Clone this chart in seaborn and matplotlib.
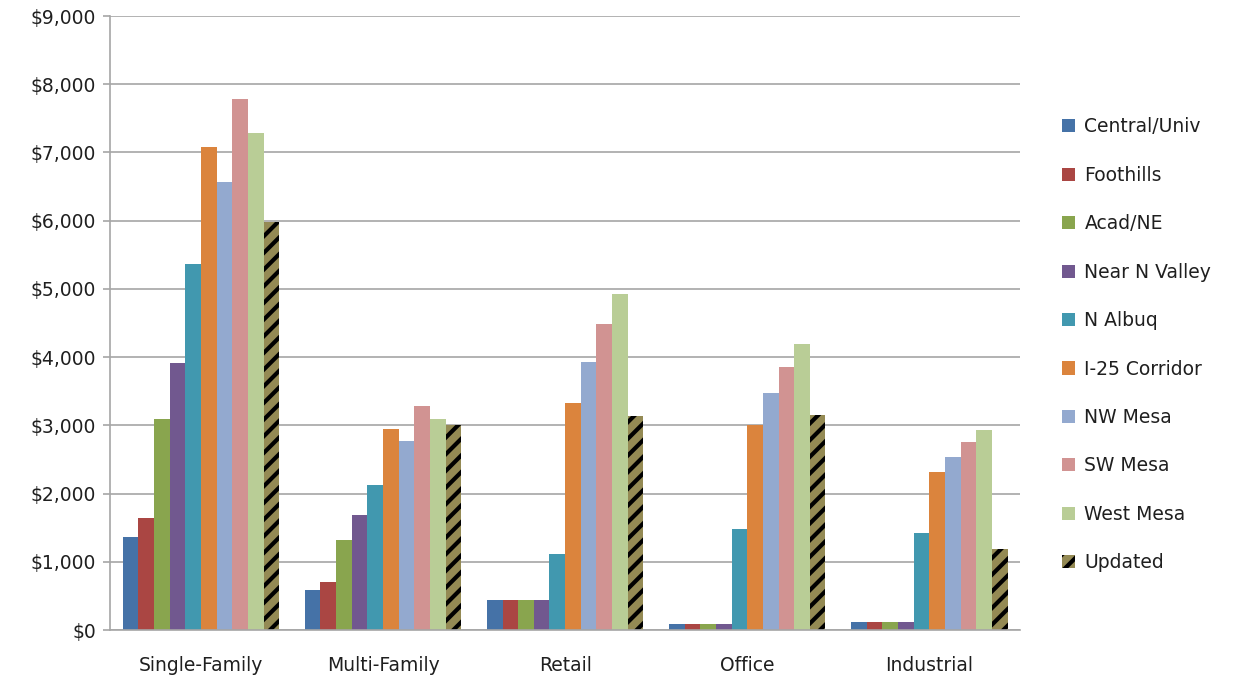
import matplotlib
matplotlib.use("Agg")
import matplotlib.pyplot as plt
from matplotlib.ticker import FuncFormatter, FixedLocator
import seaborn as sns
import pandas as pd

# Land-use categories and fee areas
categories = ["Single-Family", "Multi-Family", "Retail", "Office", "Industrial"]
areas = ["Central/Univ", "Foothills", "Acad/NE", "Near N Valley", "N Albuq",
         "I-25 Corridor", "NW Mesa", "SW Mesa", "West Mesa", "Updated"]

central_univ = [1370, 590, 440, 90, 125]
foothills = [1640, 710, 440, 90, 125]
acad_ne = [3090, 1320, 440, 90, 125]
near_n_valley = [3920, 1680, 440, 90, 125]
n_albuq = [5360, 2120, 1120, 1480, 1420]
i25_corridor = [7080, 2940, 3330, 3010, 2310]
nw_mesa = [6570, 2770, 3930, 3480, 2540]
sw_mesa = [7790, 3290, 4490, 3860, 2750]
west_mesa = [7290, 3090, 4930, 4190, 2930]
updated = [5980, 3000, 3140, 3150, 1190]

series = [central_univ, foothills, acad_ne, near_n_valley, n_albuq,
          i25_corridor, nw_mesa, sw_mesa, west_mesa, updated]

colors = ["#4572A7", "#AA4643", "#89A54E", "#71588F", "#4198AF",
          "#DB843D", "#93A9CF", "#D19392", "#B9CD96", "#948A54"]

df = pd.DataFrame(
    [(c, a, v) for a, vals in zip(areas, series) for c, v in zip(categories, vals)],
    columns=["category", "area", "fee"],
)

sns.set_style("white")
plt.rcParams["font.family"] = ["DejaVu Sans"]
plt.rcParams["hatch.linewidth"] = 3.0

FS = 13.5
TXT = "#1f1f1f"

fig = plt.figure(figsize=(12.47, 6.84), dpi=100)
ax = fig.add_axes([0.0882, 0.0789, 0.730, 0.8977])

sns.barplot(data=df, x="category", y="fee", hue="area", order=categories,
            hue_order=areas, palette=dict(zip(areas, colors)), errorbar=None,
            width=0.86, saturation=1, ax=ax, linewidth=0, legend=False)

# hatched "Updated" series
upd = ax.containers[-1]
for bar in upd:
    bar.set_hatch("//")
    bar.set_edgecolor("black")
    bar.set_linewidth(0)

ax.set_ylim(0, 9000)
ax.set_xlim(-0.5, 4.5)
ax.set_yticks(range(0, 9001, 1000))
ax.yaxis.set_major_formatter(FuncFormatter(lambda v, p: f"${v:,.0f}"))
ax.grid(axis="y", color="#A6A6A6", linewidth=1.2)
ax.set_axisbelow(True)

ax.xaxis.set_minor_locator(FixedLocator([-0.5, 0.5, 1.5, 2.5, 3.5, 4.5]))
ax.tick_params(axis="x", which="major", length=0, pad=19, labelsize=FS, labelcolor=TXT)
ax.tick_params(axis="x", which="minor", length=6, color="#A6A6A6", width=1.2)
ax.tick_params(axis="y", length=5, color="#A6A6A6", width=1.2, labelsize=FS,
               labelcolor=TXT, left=True, pad=5)
ax.set_xlabel("")
ax.set_ylabel("")

for side in ["top", "right"]:
    ax.spines[side].set_visible(False)
for side in ["left", "bottom"]:
    ax.spines[side].set_color("#A6A6A6")
    ax.spines[side].set_linewidth(1.2)

# legend built from the drawn bars
handles = [cont.patches[0] for cont in ax.containers]
leg = fig.legend(handles, areas, loc="upper left", bbox_to_anchor=(0.838, 0.853),
                 frameon=False, fontsize=FS, labelspacing=1.57,
                 handlelength=0.7, handleheight=0.7, handletextpad=0.5,
                 labelcolor=TXT)

fig.savefig("out.png", dpi=100)
